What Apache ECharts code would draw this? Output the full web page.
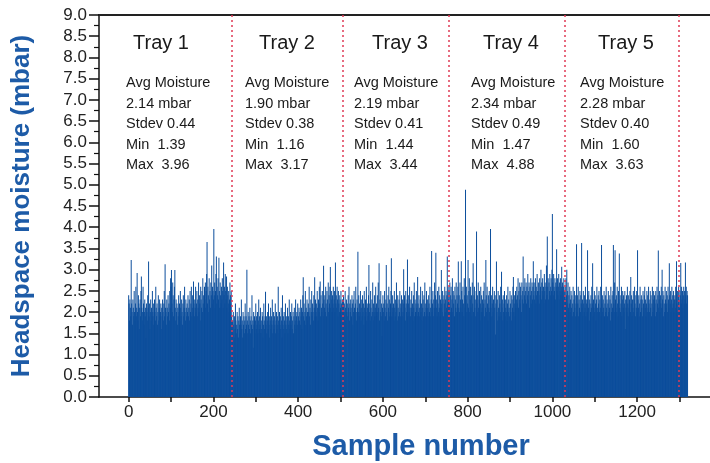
<!DOCTYPE html>
<html lang="en">
<head>
    <meta charset="utf-8">
    <script src="https://cdn.jsdelivr.net/npm/echarts@6/dist/echarts.min.js"></script>
    <style>
        html, body { margin: 0; padding: 0; background: #fff; }
        #chart { width: 710px; height: 463px; }
    </style>
</head>
<body>
<div id="chart"></div>
<script>
    // moisture readings (mbar), one array per tray
    var tray1 = [
        2.4,2.2,1.8,2.3,2.1,1.9,3.23,2.2,2.0,1.7,2.3,2.1,1.9,2.5,2.0,1.8,2.2,2.6,1.9,2.1,
        2.92,2.0,1.8,2.4,2.2,1.6,2.1,2.3,1.9,2.5,2.84,2.1,1.8,2.0,2.6,2.2,1.7,2.0,2.3,1.9,
        2.1,1.39,2.2,2.0,1.8,2.4,2.1,3.19,1.9,2.2,1.6,2.0,2.3,1.8,2.1,1.9,2.5,2.0,1.7,2.2,
        1.9,2.3,2.0,1.8,2.6,2.1,1.9,2.2,1.7,2.0,2.4,1.8,2.1,2.3,1.9,2.0,2.2,1.6,2.1,1.9,
        2.3,2.0,1.8,2.2,2.5,1.9,3.13,2.1,2.0,1.7,2.3,2.1,1.9,2.4,2.0,2.2,1.8,2.5,2.1,2.8,
        2.6,2.99,2.2,2.0,2.7,2.4,1.9,2.3,2.6,2.99,2.1,1.8,2.3,2.0,2.2,1.7,2.1,1.9,2.4,2.0,
        2.2,1.8,2.5,2.1,1.9,2.3,2.0,1.7,2.2,2.4,1.9,2.1,2.6,2.0,1.8,2.3,2.1,1.9,2.2,2.0,
        2.4,1.9,2.1,2.3,1.8,2.5,2.0,2.2,2.6,1.9,2.1,2.4,2.0,2.72,2.2,1.9,2.3,2.1,2.6,2.0,
        2.2,2.5,1.9,2.3,2.1,2.7,2.0,2.4,2.2,1.8,2.6,2.3,2.1,2.5,2.0,2.8,2.2,2.4,2.1,2.6,
        2.3,2.7,2.1,2.5,2.9,3.65,2.2,2.6,2.4,2.0,2.8,2.3,2.5,2.1,2.7,2.4,3.1,2.2,2.6,2.5,
        2.3,3.96,2.4,2.7,2.1,2.5,2.9,3.31,2.2,2.6,2.4,2.8,2.3,3.28,2.5,2.1,2.7,2.4,2.2,2.6,
        2.3,2.8,2.5,2.1,3.17,2.4,2.6,2.2,2.9,2.5,2.3,2.84,2.1,2.6,2.4,2.2,2.5,2.0,2.3,2.7,
        2.4,2.2,2.5
    ];
    var tray2 = [
        1.9,1.6,1.8,1.5,2.0,1.7,1.4,1.9,1.6,2.2,1.8,1.5,1.7,2.0,1.6,1.9,1.4,1.8,2.1,1.7,
        1.5,1.9,1.7,2.3,1.6,1.8,1.4,2.0,1.7,1.9,1.5,1.8,2.2,1.6,1.9,1.7,3.0,1.8,1.5,2.0,
        1.7,1.9,1.6,2.1,1.8,1.5,1.9,1.7,2.4,1.6,1.8,1.16,2.0,1.7,1.9,1.5,1.8,2.2,1.6,1.9,
        1.7,2.0,1.5,1.8,2.3,1.6,1.9,1.7,2.1,1.5,1.8,1.6,2.0,1.9,1.4,1.7,2.2,1.8,1.6,1.9,
        2.48,1.7,1.9,1.5,1.8,2.0,1.6,2.2,1.7,1.9,1.4,1.8,2.1,1.6,1.9,1.7,2.3,1.5,1.8,2.0,
        1.6,1.9,1.7,2.2,1.5,1.8,2.0,1.6,1.9,1.7,2.6,1.8,1.5,2.0,1.7,1.9,1.6,2.1,1.8,1.4,
        2.4,1.7,1.9,1.6,2.0,1.8,1.5,2.2,1.7,1.9,1.6,1.8,2.1,1.5,1.9,1.7,2.3,1.8,1.6,2.0,
        1.7,1.9,2.2,1.6,1.8,2.0,1.5,1.9,2.1,1.7,1.8,2.3,1.6,1.9,2.0,1.7,2.2,1.8,1.9,2.1,
        1.8,2.0,1.7,2.3,1.9,2.1,1.6,2.0,2.4,2.82,1.9,2.2,1.8,2.0,2.5,1.7,2.1,1.9,2.3,2.0,
        1.8,2.2,2.0,2.6,1.9,2.1,1.7,2.3,2.0,2.5,1.9,2.2,2.0,1.8,2.4,2.1,2.82,1.9,2.3,2.0,
        2.2,1.9,2.5,2.1,1.8,2.3,2.0,2.6,2.2,2.72,1.9,2.4,2.1,2.0,2.5,2.2,1.9,3.09,2.3,2.1,
        2.4,2.0,2.6,2.2,1.9,2.5,2.3,2.1,2.7,2.0,2.4,2.2,2.6,3.06,2.1,2.3,2.5,2.0,2.4,2.2,
        2.6,2.1,2.3,2.5,2.0,3.17,2.2,2.4,2.1,2.6,2.3,1.9,2.5,2.2,2.4,2.0,2.3,2.1,2.5,2.2,
        2.0,2.3
    ];
    var tray3 = [
        2.3,2.1,2.4,1.9,2.2,2.0,2.5,2.1,1.8,2.3,2.0,2.2,1.9,2.4,2.1,2.6,1.8,2.2,2.0,2.3,
        2.1,1.9,2.4,2.2,1.7,2.3,2.0,2.5,2.1,1.9,2.2,2.6,2.0,1.8,2.3,2.1,3.42,2.0,2.4,1.9,
        2.2,2.0,2.5,1.8,2.1,2.3,1.9,2.4,2.0,2.2,1.7,2.5,2.1,1.9,2.3,2.0,2.6,1.8,2.2,2.1,
        1.9,2.4,3.11,2.0,2.2,1.8,2.5,2.1,1.9,2.3,2.0,2.7,1.8,2.2,2.0,2.4,1.9,2.1,2.6,2.0,
        2.2,1.9,2.4,2.0,2.7,2.1,3.15,1.8,2.3,2.0,2.5,1.9,2.2,1.44,2.1,2.4,2.0,2.2,1.8,2.5,
        2.1,1.9,2.3,3.11,2.0,2.2,1.8,2.4,2.1,2.6,1.9,2.3,2.0,2.2,2.5,3.27,1.9,2.1,2.4,2.0,
        2.2,1.8,2.5,2.1,1.9,2.3,2.0,2.7,2.2,1.8,2.4,2.1,1.9,2.3,2.0,2.5,2.2,1.9,2.1,2.4,
        2.0,2.3,1.9,2.2,3.01,2.0,2.4,2.1,1.8,2.5,2.2,2.0,2.3,3.24,1.9,2.2,2.4,2.0,2.6,2.1,
        1.9,2.3,2.1,2.5,2.0,2.2,1.8,2.4,2.1,2.7,1.9,2.3,2.0,2.2,2.5,2.1,1.9,2.83,2.2,2.0,
        2.4,2.1,1.9,2.3,2.6,2.0,2.2,1.8,2.5,2.1,2.3,1.9,2.4,2.0,2.7,2.2,1.9,2.1,2.5,2.0,
        2.3,2.1,1.9,2.4,2.2,2.0,2.6,2.1,1.9,2.3,3.44,2.0,2.2,2.5,1.9,2.3,2.1,2.7,2.0,2.4,
        3.4,2.1,2.3,1.9,2.5,2.2,2.0,2.6,2.1,2.4,1.9,2.3,2.1,2.99,2.2,2.0,2.5,2.3,1.9,2.4,
        2.2,2.6,2.0,2.3,2.5,2.1,2.4,3.31,2.2,2.6,2.3
    ];
    var tray4 = [
        2.5,2.2,2.7,2.0,2.4,2.6,2.1,2.3,2.8,2.0,2.5,2.2,2.4,1.9,2.6,2.3,2.1,2.7,2.0,2.4,
        2.2,2.6,3.19,2.1,2.4,2.0,2.7,2.3,2.1,3.2,2.5,2.0,2.3,2.6,2.2,1.9,2.8,2.4,2.1,4.88,
        2.3,2.6,2.0,2.4,2.2,3.23,2.1,2.5,2.8,2.0,2.3,2.6,2.1,2.4,1.9,2.7,2.2,3.15,2.0,2.4,
        2.6,2.1,2.3,1.9,2.5,3.9,2.2,2.4,2.0,2.7,2.1,2.3,2.5,1.8,2.2,2.6,2.0,2.4,2.1,2.3,
        2.0,2.5,2.2,2.7,1.9,2.3,2.1,3.23,2.4,2.0,2.6,2.2,1.8,2.4,2.1,2.5,2.0,2.3,3.96,2.1,
        2.4,1.9,2.2,2.6,2.0,2.3,1.8,2.5,2.1,2.4,1.47,2.2,3.19,2.0,2.3,1.8,2.5,2.1,1.9,2.4,
        2.2,2.0,2.6,1.9,2.95,2.1,2.3,1.8,2.4,2.0,2.2,2.5,1.9,2.3,2.1,2.0,2.4,1.8,2.2,2.6,
        2.0,2.3,2.1,1.9,2.5,2.2,2.0,2.4,1.8,2.3,2.1,2.6,2.83,2.0,2.2,2.4,1.9,2.5,2.1,2.3,
        2.6,2.2,2.4,2.8,2.1,2.5,2.3,2.7,2.2,2.6,2.4,2.0,2.7,2.3,2.5,3.31,2.2,2.6,2.4,2.8,
        2.3,2.5,2.7,2.2,2.6,2.4,2.9,2.3,2.5,2.7,2.1,2.6,2.4,2.8,2.2,2.5,2.7,2.3,2.6,3.2,
        2.4,2.7,2.3,2.5,2.8,2.2,2.6,2.4,2.9,2.5,2.3,2.7,2.5,2.2,2.8,2.4,2.6,3.0,2.3,2.7,
        2.5,2.8,2.4,2.6,2.2,2.9,2.5,2.7,2.3,2.6,3.1,2.4,3.78,2.6,2.8,2.3,2.7,2.5,2.9,2.4,
        2.6,2.8,2.5,3.0,4.31,2.7,2.4,2.9,2.6,2.5,2.8,2.3,2.7,2.6,3.48,2.5,2.8,2.4,2.6,2.9,
        2.3,2.7,2.5,2.8,2.4,2.6,3.07,2.5,2.7,2.3,2.6,2.8,2.4,2.5
    ];
    var tray5 = [
        2.6,2.3,2.8,2.4,3.0,2.2,2.5,2.7,2.1,2.4,2.2,2.6,2.0,2.3,2.5,2.1,2.4,1.9,2.2,2.6,
        2.0,2.3,2.5,2.1,2.4,1.9,2.2,3.6,2.0,2.4,2.2,2.6,1.9,2.3,2.1,2.5,2.0,2.4,2.2,3.63,
        2.1,2.3,1.9,2.5,2.2,2.0,2.4,2.1,2.6,1.9,2.3,2.2,2.0,3.46,2.4,2.1,2.5,1.8,2.3,2.2,
        2.0,2.4,2.1,2.6,2.2,3.15,1.9,2.3,2.1,2.5,2.0,2.4,2.2,1.8,2.3,2.6,2.1,2.0,2.4,2.2,
        2.5,2.0,2.3,2.1,2.6,1.9,3.58,2.2,2.4,2.0,2.3,2.1,2.5,1.9,2.2,2.4,2.0,2.6,2.1,2.3,
        1.9,2.2,2.5,2.0,2.4,2.1,2.3,1.8,2.6,2.2,2.0,2.4,2.1,2.5,3.58,2.2,2.0,2.7,3.46,2.3,
        2.1,2.4,2.0,2.6,2.2,1.9,2.5,2.3,3.38,2.1,2.4,2.0,2.2,2.6,1.9,2.3,2.5,2.1,2.4,2.0,
        2.2,2.5,1.6,2.3,2.1,2.4,2.0,2.6,2.2,1.9,2.4,2.1,2.3,2.5,2.0,2.83,2.2,2.4,1.9,2.3,
        2.1,2.5,2.0,2.3,2.6,2.2,1.9,2.4,2.1,2.5,2.0,3.46,2.3,2.1,2.4,1.9,2.2,2.6,2.0,2.3,
        2.4,2.1,2.3,1.9,2.5,2.2,2.0,2.4,2.6,2.1,2.3,1.9,2.2,2.5,2.0,2.4,2.1,2.6,2.2,2.0,
        2.3,2.5,2.1,2.4,1.9,2.2,2.6,2.0,2.3,2.5,2.1,2.4,2.2,1.9,2.5,2.3,2.0,2.6,2.2,2.4,
        3.45,2.1,2.3,2.5,2.0,2.4,2.2,2.6,2.1,3.0,2.3,2.5,1.9,2.4,2.2,2.0,2.6,2.3,2.1,2.5,
        2.2,2.4,2.0,2.6,2.3,2.1,3.15,2.4,2.2,2.5,2.0,2.3,2.6,2.1,2.4,2.2,2.5,2.0,2.3,2.4,
        2.1,2.6,2.3,3.2,2.2,2.5,2.0,2.4,2.6,2.3,2.1,2.5,2.4,3.16,2.2,2.6,2.3,2.5,2.1,2.4,
        2.6,2.2,2.5,2.3,3.17,2.4,2.6,2.2,2.5,2.4
    ];

    var trayNames = ['Tray 1', 'Tray 2', 'Tray 3', 'Tray 4', 'Tray 5'];
    var trayAvg = ['2.14', '1.90', '2.19', '2.34', '2.28'];
    var trayStdev = ['0.44', '0.38', '0.41', '0.49', '0.40'];
    var trayMin = ['1.39', '1.16', '1.44', '1.47', '1.60'];
    var trayMax = ['3.96', '3.17', '3.44', '4.88', '3.63'];
    // sample numbers where the red dotted separators sit
    var trayEdges = [243, 505, 756, 1030, 1299];

    var xTicks = [0, 100, 200, 300, 400, 500, 600, 700, 800, 900, 1000, 1100, 1200, 1300];
    var xLabels = [0, 200, 400, 600, 800, 1000, 1200];

    // text block positions (px)
    var nameLeft = [133, 259, 372, 483, 598];
    var statLeft = [126, 245, 354, 471, 580];

    var allValues = tray1.concat(tray2, tray3, tray4, tray5);
    var barData = [];
    for (var i = 0; i < allValues.length; i++) {
        barData.push([i, allValues[i]]);
    }

    var fontFamily = '"Liberation Sans", Arial, sans-serif';
    var blue = '#1d5ba7';

    var graphics = [];
    for (var t = 0; t < trayNames.length; t++) {
        graphics.push({
            type: 'text', left: nameLeft[t], top: 33, z: 10,
            style: { text: trayNames[t], fontSize: 20, fontFamily: fontFamily, fill: '#1a1a1a' }
        });
        graphics.push({
            type: 'text', left: statLeft[t], top: 73, z: 10,
            style: {
                text: 'Avg Moisture\n' + trayAvg[t] + ' mbar\nStdev ' + trayStdev[t] +
                      '\nMin  ' + trayMin[t] + '\nMax  ' + trayMax[t],
                fontSize: 14.5, lineHeight: 20.5, fontFamily: fontFamily, fill: '#1a1a1a'
            }
        });
    }

    var chart = echarts.init(document.getElementById('chart'));
    chart.setOption({
        animation: false,
        grid: { left: 99, right: 0, top: 15, bottom: 66, outerBoundsMode: 'none' },
        xAxis: [{
            type: 'value',
            min: -70,
            max: 1372,
            name: 'Sample number',
            nameLocation: 'middle',
            nameGap: 35,
            nameTextStyle: { color: blue, fontSize: 29, fontWeight: 'bold', fontFamily: fontFamily, padding: [0, 0, 0, 33] },
            axisLine: { onZero: false, lineStyle: { color: '#111', width: 1.5 } },
            axisTick: { show: true, length: 5, customValues: xTicks, lineStyle: { color: '#111', width: 1.5 } },
            axisLabel: {
                customValues: xLabels, color: '#222', fontSize: 17, fontFamily: fontFamily, margin: 7,
                formatter: function (v) { return String(v); }
            },
            splitLine: { show: false }
        }, {
            type: 'value',
            position: 'top',
            min: -70,
            max: 1372,
            axisLine: { show: true, onZero: false, lineStyle: { color: '#222', width: 2 } },
            axisTick: { show: false },
            axisLabel: { show: false },
            splitLine: { show: false }
        }],
        yAxis: {
            type: 'value',
            min: 0,
            max: 9,
            interval: 0.5,
            name: 'Headspace moisture (mbar)',
            nameLocation: 'middle',
            nameGap: 64,
            nameTextStyle: { color: blue, fontSize: 26, fontWeight: 'bold', fontFamily: fontFamily },
            axisLine: { show: true, onZero: false, lineStyle: { color: '#111', width: 1.5 } },
            axisTick: { show: true, length: 10, lineStyle: { color: '#111', width: 1.5 } },
            minorTick: { show: true, splitNumber: 2, length: 5, lineStyle: { color: '#111', width: 1.2 } },
            axisLabel: {
                color: '#222', fontSize: 17, fontFamily: fontFamily, margin: 12,
                formatter: function (v) { return v.toFixed(1); }
            },
            splitLine: { show: false }
        },
        series: [{
            type: 'bar',
            data: barData,
            barWidth: 0.7,
            itemStyle: { color: '#0c4e9c' },
            markLine: {
                silent: true,
                symbol: 'none',
                label: { show: false },
                lineStyle: { color: '#e03a55', type: [2, 3], width: 1.5 },
                data: trayEdges.map(function (x) { return { xAxis: x }; })
            }
        }],
        graphic: graphics
    });
</script>
</body>
</html>
